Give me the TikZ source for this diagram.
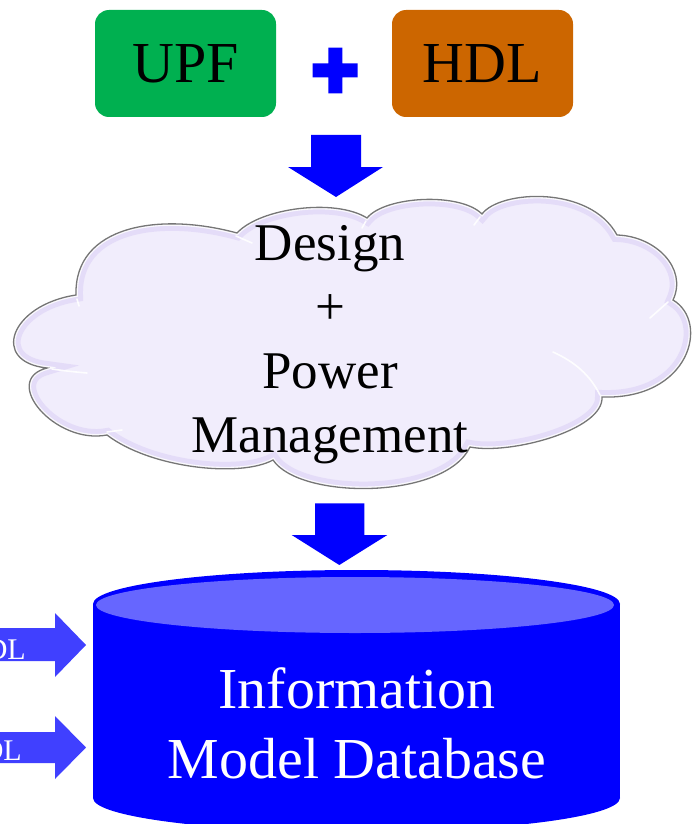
\documentclass[tikz,border=0pt]{standalone}
\usepackage{fontspec}
\setmainfont{Liberation Serif}

\definecolor{upfgreen}{RGB}{0,176,80}
\definecolor{hdlorange}{RGB}{204,102,0}
\definecolor{pureblue}{RGB}{0,0,255}
\definecolor{lidblue}{RGB}{102,102,255}
\definecolor{sideblue}{RGB}{64,64,255}
\definecolor{cloudfill}{RGB}{241,237,252}
\definecolor{cloudglow}{RGB}{214,200,244}
\definecolor{cloudline}{RGB}{118,118,118}

% scalloped outline of the design cloud (y grows downwards)
\newcommand\cloudoutline{(237,233)
  .. controls (260,208) and (335,198) .. (367,218)
  .. controls (385,196) and (460,192) .. (482,214)
  .. controls (500,190) and (590,185) .. (617,235)
  .. controls (655,236) and (688,268) .. (673,300)
  .. controls (710,322) and (690,400) .. (602,397)
  .. controls (604,430) and (510,455) .. (470,447)
  .. controls (445,500) and (300,500) .. (273,460)
  .. controls (240,478) and (150,468) .. (107,435)
  .. controls (55,445) and (0,380) .. (47,368)
  .. controls (-10,362) and (10,305) .. (76,295)
  .. controls (74,225) and (160,212) .. (237,233) -- cycle}

\begin{document}
\begin{tikzpicture}[x=1pt,y=-1pt,
  inbox/.style={rounded corners=14pt, minimum width=181pt, minimum height=107pt,
    inner sep=0pt, font=\fontsize{58}{70}\selectfont, text=black},
  blockarrow/.style={fill=pureblue},
  sidearrow/.style={fill=sideblue},
  sidelabel/.style={inner sep=0pt, text=white, font=\fontsize{30}{36}\selectfont},
  cloudtext/.style={inner sep=0pt, align=center, text=black, font=\fontsize{53}{64}\selectfont},
  dbtext/.style={inner sep=0pt, align=center, text=white, font=\fontsize{58}{70}\selectfont}]
\useasboundingbox (0,0) rectangle (695,824);
\clip (0,0) rectangle (695,824);

% the two inputs
\node[inbox, fill=upfgreen] (upf) at (185.5,63.5) {UPF};
\node[inbox, fill=hdlorange] (hdl) at (482.5,63.5) {HDL};

% bold plus between the inputs
\coordinate (plus) at (335.5,70.5);
\fill[pureblue] (328.3,47.7) -- (342.3,47.7) -- (342.3,63.3) -- (357.7,63.3)
  -- (357.7,77.3) -- (342.3,77.3) -- (342.3,93.3) -- (328.3,93.3) -- (328.3,77.3)
  -- (312.7,77.3) -- (312.7,63.3) -- (328.3,63.3) -- cycle;

% arrow down into the cloud
\fill[blockarrow] (311,135) -- (361,135) -- (361,167) -- (383,167) -- (336,197)
  -- (288,167) -- (311,167) -- cycle;

% design cloud
\fill[cloudfill] \cloudoutline;
\begin{scope}
  \clip \cloudoutline;
  \draw[cloudglow, line width=14pt, opacity=0.45] \cloudoutline;
  \draw[white, line width=4pt, opacity=0.85] \cloudoutline;
\end{scope}
\draw[cloudline, line width=1.3pt] \cloudoutline;

% small highlights at the notches of the cloud
\begin{scope}[white, line width=1.6pt, line cap=round, opacity=0.9]
  \draw (236,236) -- (252,243);
  \draw (366,221) -- (362,228);
  \draw (480,217) -- (474,225);
  \draw (77,299) -- (79,306);
  \draw (52,369) .. controls (65,371) and (76,372) .. (87,373);
  \draw (107,432) -- (122,430);
  \draw (668,302) -- (650,318);
  \draw (600,395) .. controls (590,375) and (575,362) .. (553,352);
\end{scope}

% multi-line nodes: the base anchor sits on the last line
\node[cloudtext, anchor=base] (cloud) at (330,452) {Design\\+\\Power\\Management};

% arrow down into the database
\fill[blockarrow] (315,503.3) -- (364.3,503.3) -- (364.3,535) -- (387.3,535)
  -- (339.3,565) -- (291.7,535) -- (315,535) -- cycle;

% database cylinder
\fill[pureblue] (93,604) rectangle (620,798);
\fill[pureblue] (356.5,798) ellipse [x radius=263.5, y radius=34];
\fill[pureblue] (356.5,604) ellipse [x radius=263.5, y radius=34];
\fill[lidblue] (355,605) ellipse [x radius=259, y radius=28];
\node[dbtext, anchor=base] (db) at (357,778) {Information\\Model Database};

% side inputs into the database
\fill[sidearrow] (-10,628) -- (55,628) -- (55,613) -- (86,645) -- (55,677)
  -- (55,661) -- (-10,661) -- cycle;
\fill[sidearrow] (-10,732) -- (55,732) -- (55,716) -- (86,747.5) -- (55,779)
  -- (55,763) -- (-10,763) -- cycle;
\node[sidelabel, anchor=base east] (inA) at (26,659) {HDL};
\node[sidelabel, anchor=base east] (inB) at (22,760) {HDL};
\end{tikzpicture}
\end{document}
